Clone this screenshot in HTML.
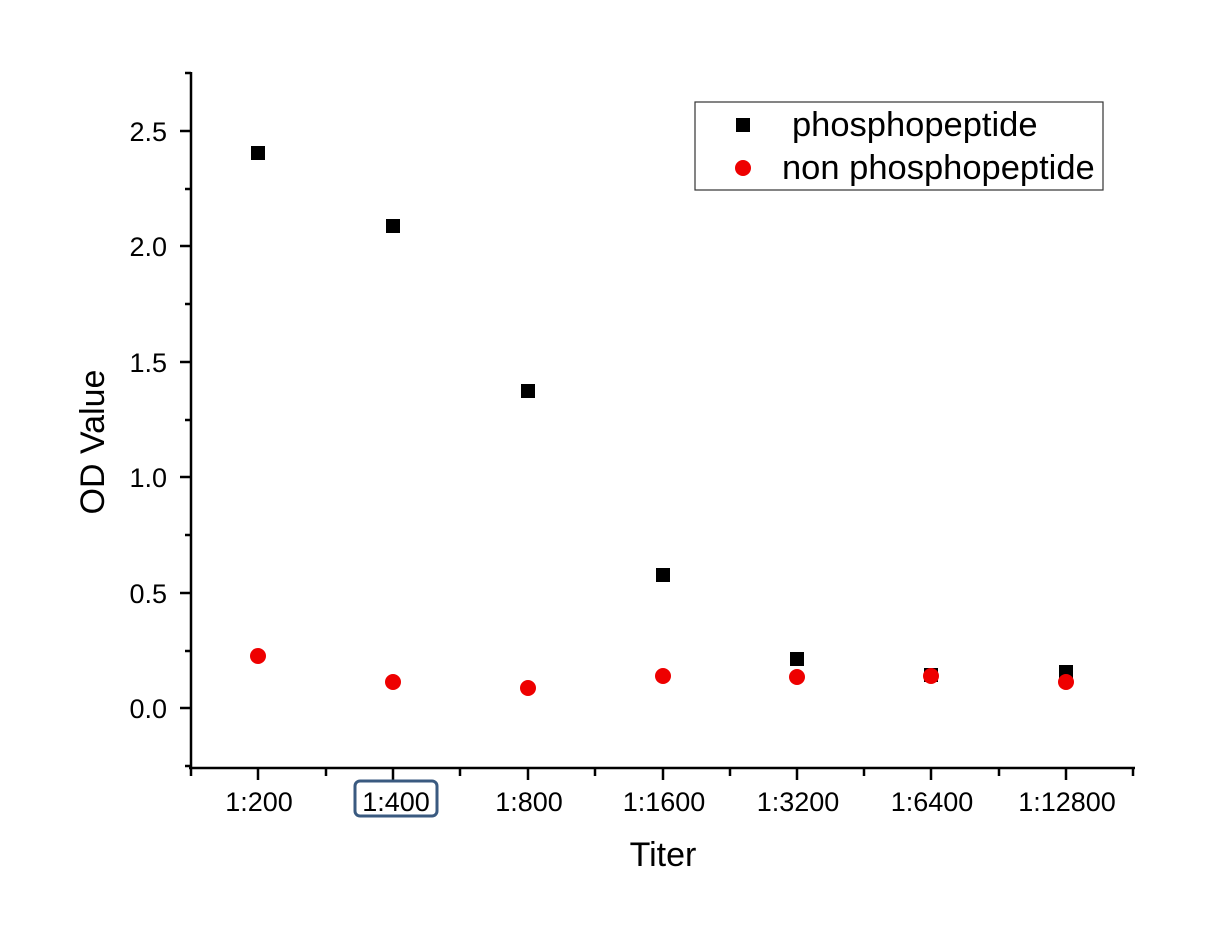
<!DOCTYPE html>
<html><head><style>body{margin:0;background:#fff}svg{display:block}</style></head><body>
<svg width="1207" height="947" xmlns="http://www.w3.org/2000/svg" font-family="Liberation Sans, Arial, sans-serif">
<g stroke="#000" stroke-width="2.5" fill="none">
<line x1="191" y1="72" x2="191" y2="768"/>
<line x1="189" y1="768" x2="1135" y2="768"/>
<path d="M180 131H191M180 246H191M180 362H191M180 477H191M180 593H191M180 708H191"/>
<path d="M185 73H191M185 189H191M185 304H191M185 420H191M185 535H191M185 651H191M185 766H191"/>
<path d="M191 768V776M258 768V780M326 768V776M393 768V780M460 768V776M528 768V780M595 768V776M663 768V780M730 768V776M797 768V780M864 768V776M931 768V780M999 768V776M1066 768V780M1133 768V776"/>
</g>
<g font-size="27" text-anchor="end" fill="#000">
<text x="167" y="141">2.5</text><text x="167" y="256">2.0</text><text x="167" y="372">1.5</text>
<text x="167" y="487">1.0</text><text x="167" y="603">0.5</text><text x="167" y="718">0.0</text>
</g>
<g font-size="27" text-anchor="middle" fill="#000">
<text x="259" y="811">1:200</text><text x="396" y="811">1:400</text><text x="529" y="811">1:800</text>
<text x="664" y="811">1:1600</text><text x="798" y="811">1:3200</text><text x="932" y="811">1:6400</text><text x="1067" y="811">1:12800</text>
</g>
<rect x="355" y="781" width="82" height="35" rx="5" fill="none" stroke="#3a5a80" stroke-width="3"/>
<text x="663" y="866" font-size="34" text-anchor="middle">Titer</text>
<text transform="translate(104 442) rotate(-90)" font-size="34" text-anchor="middle">OD Value</text>
<g fill="#000">
<rect x="251" y="146" width="14" height="14"/><rect x="386" y="219" width="14" height="14"/>
<rect x="521" y="384" width="14" height="14"/><rect x="656" y="568" width="14" height="14"/>
<rect x="790" y="652" width="14" height="14"/><rect x="924" y="668" width="14" height="14"/>
<rect x="1059" y="665" width="14" height="14"/>
</g>
<g fill="#e00">
<circle cx="258" cy="656" r="8"/><circle cx="393" cy="682" r="8"/><circle cx="528" cy="688" r="8"/>
<circle cx="663" cy="676" r="8"/><circle cx="797" cy="677" r="8"/><circle cx="931" cy="676" r="8"/>
<circle cx="1066" cy="682" r="8"/>
</g>
<rect x="695" y="102" width="408" height="88" fill="none" stroke="#333" stroke-width="1.2"/>
<rect x="736" y="118" width="14" height="14" fill="#000"/>
<circle cx="743" cy="168" r="8" fill="#e00"/>
<text x="792" y="136" font-size="34.5">phosphopeptide</text>
<text x="782" y="179" font-size="34.5">non phosphopeptide</text>
</svg>
</body></html>
